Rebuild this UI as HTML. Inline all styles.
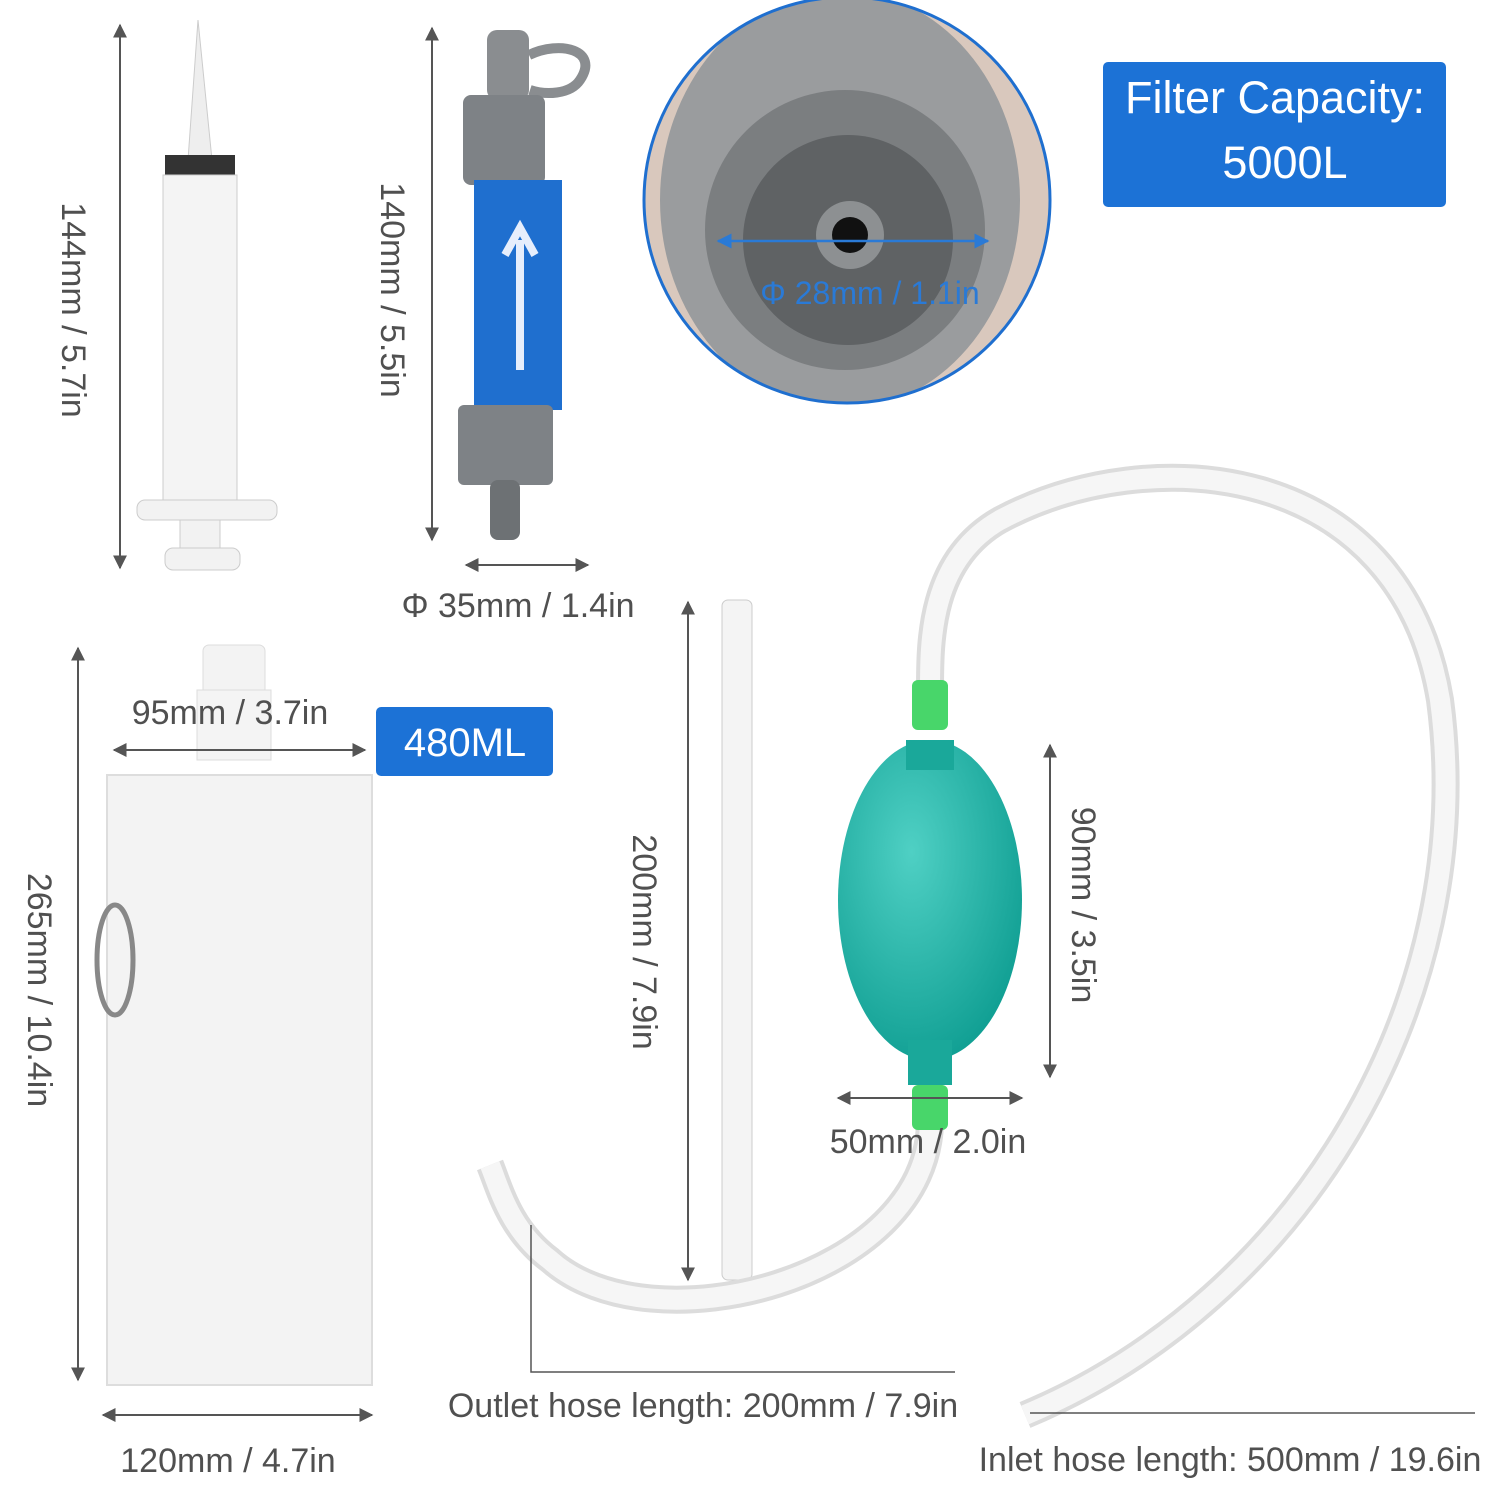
<!DOCTYPE html>
<html><head><meta charset="utf-8"><style>
html,body{margin:0;padding:0;background:#fff;}
svg text{font-family:"Liberation Sans",sans-serif;fill:#505050;font-size:34px;}
</style></head><body>
<svg width="1500" height="1500" viewBox="0 0 1500 1500" xmlns="http://www.w3.org/2000/svg">
<defs>
<marker id="a" viewBox="0 0 10 10" refX="9" refY="5" markerWidth="7" markerHeight="7" orient="auto-start-reverse"><path d="M0,0 L10,5 L0,10 z" fill="#555"/></marker>
<marker id="b" viewBox="0 0 10 10" refX="9" refY="5" markerWidth="6" markerHeight="6" orient="auto-start-reverse"><path d="M0,0 L10,5 L0,10 z" fill="#2a7ad6"/></marker>
<radialGradient id="bulb" cx="0.4" cy="0.35" r="0.7"><stop offset="0" stop-color="#4fd0c4"/><stop offset="1" stop-color="#0f9e92"/></radialGradient>
<clipPath id="cc"><circle cx="847" cy="200" r="203"/></clipPath>
</defs>

<!-- syringe -->
<path d="M198,20 L188,160 L212,160 Z" fill="#eee" stroke="#ccc"/>
<rect x="165" y="155" width="70" height="20" fill="#333"/>
<rect x="163" y="175" width="74" height="330" fill="#f4f4f4" stroke="#ccc"/>
<rect x="137" y="500" width="140" height="20" rx="8" fill="#f2f2f2" stroke="#ccc"/>
<rect x="180" y="520" width="40" height="30" fill="#f2f2f2" stroke="#ccc"/>
<rect x="165" y="548" width="75" height="22" rx="8" fill="#f2f2f2" stroke="#ccc"/>
<line x1="120" y1="25" x2="120" y2="568" stroke="#555" stroke-width="2" marker-start="url(#a)" marker-end="url(#a)"/>
<text transform="translate(62,310) rotate(90)" text-anchor="middle">144mm / 5.7in</text>

<!-- filter -->
<rect x="487" y="30" width="42" height="70" rx="10" fill="#8a8d90"/>
<path d="M529,55 C560,40 600,50 580,80 C570,95 545,95 530,90" fill="none" stroke="#8a8d90" stroke-width="10"/>
<rect x="463" y="95" width="82" height="90" rx="8" fill="#7e8286"/>
<rect x="474" y="180" width="88" height="230" fill="#1f6fcf"/>
<path d="M520,370 L520,240 M505,255 L520,228 L535,255" stroke="#e6eefc" stroke-width="8" fill="none"/>
<rect x="458" y="405" width="95" height="80" rx="6" fill="#7e8286"/>
<rect x="490" y="480" width="30" height="60" rx="8" fill="#6d7174"/>
<line x1="432" y1="28" x2="432" y2="540" stroke="#555" stroke-width="2" marker-start="url(#a)" marker-end="url(#a)"/>
<text transform="translate(381,290) rotate(90)" text-anchor="middle">140mm / 5.5in</text>
<line x1="466" y1="565" x2="588" y2="565" stroke="#555" stroke-width="2" marker-start="url(#a)" marker-end="url(#a)"/>
<text x="518" y="617" text-anchor="middle">Φ 35mm / 1.4in</text>

<!-- circle detail -->
<g clip-path="url(#cc)">
<rect x="640" y="0" width="420" height="410" fill="#d9c8bd"/>
<ellipse cx="840" cy="200" rx="180" ry="210" fill="#9a9c9e"/>
<circle cx="845" cy="230" r="140" fill="#7b7e80"/>
<circle cx="848" cy="240" r="105" fill="#5f6264"/>
<circle cx="850" cy="235" r="34" fill="#8d9092"/>
<circle cx="850" cy="235" r="18" fill="#111"/>
</g>
<circle cx="847" cy="200" r="203" fill="none" stroke="#1f6fcf" stroke-width="3"/>
<line x1="718" y1="241" x2="988" y2="241" stroke="#2a7ad6" stroke-width="2.5" marker-start="url(#b)" marker-end="url(#b)"/>
<text x="870" y="304" text-anchor="middle" style="fill:#2a7ad6;font-size:32px">Φ 28mm / 1.1in</text>

<rect x="1103" y="62" width="343" height="145" rx="5" fill="#1c72d6"/>
<text x="1275" y="113" text-anchor="middle" style="fill:#fff;font-size:45px">Filter Capacity:</text>
<text x="1285" y="178" text-anchor="middle" style="fill:#fff;font-size:45px">5000L</text>

<!-- bag -->
<rect x="203" y="645" width="62" height="50" rx="6" fill="#f3f3f3" stroke="#ddd"/>
<rect x="197" y="690" width="74" height="70" fill="#f4f4f4" stroke="#ddd"/>
<path d="M107,775 L372,775 L372,1385 L107,1385 Z" fill="#f3f3f3" stroke="#ddd" stroke-width="2"/>
<ellipse cx="115" cy="960" rx="18" ry="55" fill="none" stroke="#888" stroke-width="5"/>
<line x1="78" y1="648" x2="78" y2="1380" stroke="#555" stroke-width="2" marker-start="url(#a)" marker-end="url(#a)"/>
<text transform="translate(28,990) rotate(90)" text-anchor="middle">265mm / 10.4in</text>
<text x="230" y="724" text-anchor="middle">95mm / 3.7in</text>
<line x1="114" y1="750" x2="365" y2="750" stroke="#555" stroke-width="2" marker-start="url(#a)" marker-end="url(#a)"/>
<rect x="376" y="707" width="177" height="69" rx="5" fill="#1c72d6"/>
<text x="465" y="756" text-anchor="middle" style="fill:#fff;font-size:40px">480ML</text>
<line x1="103" y1="1415" x2="372" y2="1415" stroke="#555" stroke-width="2" marker-start="url(#a)" marker-end="url(#a)"/>
<text x="228" y="1472" text-anchor="middle">120mm / 4.7in</text>

<!-- straw -->
<rect x="722" y="600" width="30" height="680" rx="6" fill="#f4f4f4" stroke="#ccc"/>
<line x1="688" y1="602" x2="688" y2="1280" stroke="#555" stroke-width="2" marker-start="url(#a)" marker-end="url(#a)"/>
<text transform="translate(633,942) rotate(90)" text-anchor="middle">200mm / 7.9in</text>

<!-- hoses -->
<path d="M1025,1415 C1300,1300 1480,1000 1440,700 C1400,460 1150,440 1000,520 C930,560 930,640 930,690" fill="none" stroke="#dcdcdc" stroke-width="28"/>
<path d="M1025,1415 C1300,1300 1480,1000 1440,700 C1400,460 1150,440 1000,520 C930,560 930,640 930,690" fill="none" stroke="#f6f6f6" stroke-width="20"/>
<path d="M930,1120 C930,1280 650,1350 550,1260 C510,1230 500,1190 490,1165" fill="none" stroke="#dcdcdc" stroke-width="28"/>
<path d="M930,1120 C930,1280 650,1350 550,1260 C510,1230 500,1190 490,1165" fill="none" stroke="#f6f6f6" stroke-width="20"/>

<!-- bulb -->
<rect x="912" y="680" width="36" height="50" rx="6" fill="#48d66a"/>
<rect x="912" y="1085" width="36" height="45" rx="6" fill="#48d66a"/>
<ellipse cx="930" cy="900" rx="92" ry="160" fill="url(#bulb)"/>
<rect x="906" y="740" width="48" height="30" fill="#1aa89a"/>
<rect x="908" y="1040" width="44" height="45" fill="#1aa89a"/>
<line x1="1050" y1="745" x2="1050" y2="1077" stroke="#555" stroke-width="2" marker-start="url(#a)" marker-end="url(#a)"/>
<text transform="translate(1072,905) rotate(90)" text-anchor="middle">90mm / 3.5in</text>
<line x1="838" y1="1098" x2="1022" y2="1098" stroke="#555" stroke-width="2" marker-start="url(#a)" marker-end="url(#a)"/>
<text x="928" y="1153" text-anchor="middle">50mm / 2.0in</text>

<polyline points="531,1225 531,1372 955,1372" fill="none" stroke="#555" stroke-width="1.5"/>
<text x="703" y="1417" text-anchor="middle">Outlet hose length: 200mm / 7.9in</text>
<line x1="1030" y1="1413" x2="1475" y2="1413" stroke="#555" stroke-width="1.5"/>
<text x="1230" y="1471" text-anchor="middle">Inlet hose length: 500mm / 19.6in</text>
</svg>
</body></html>
